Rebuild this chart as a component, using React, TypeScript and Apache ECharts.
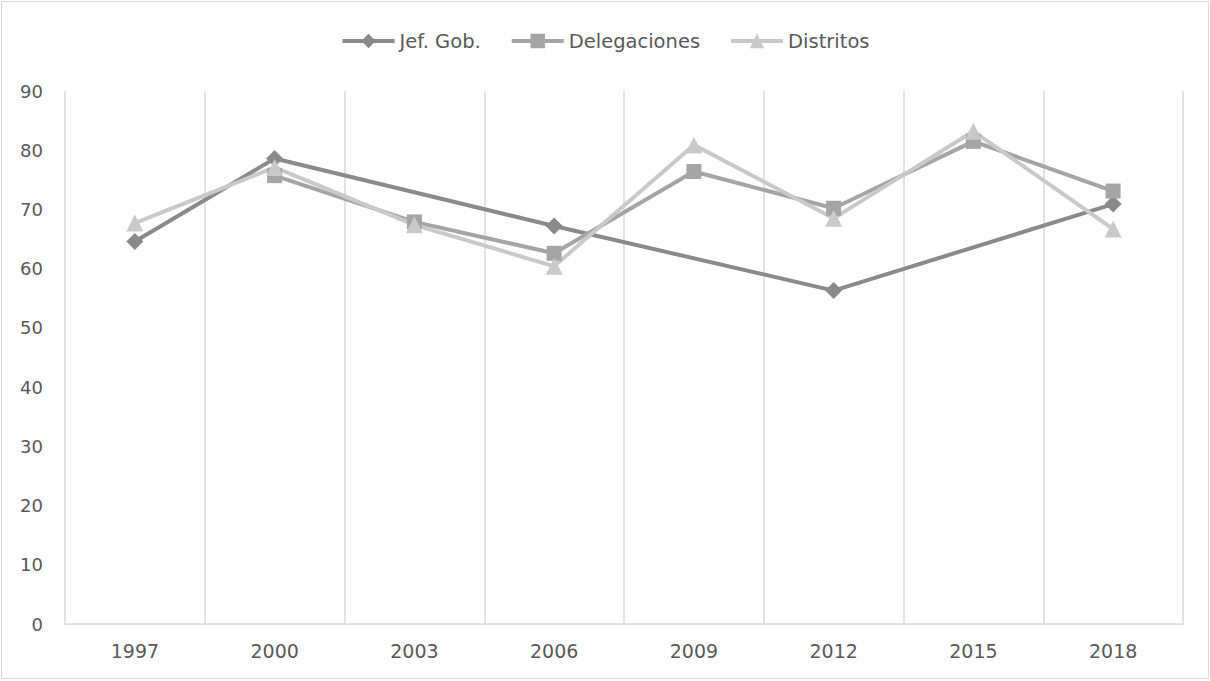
import React, { useEffect, useRef } from "react";
import * as echarts from "echarts";

// Election years on the category axis
const years = ["1997", "2000", "2003", "2006", "2009", "2012", "2015", "2018"];

// Participation per office; Jefatura de Gobierno is only elected every six years
const jefGob = [64.6, 78.6, null, 67.2, null, 56.3, null, 70.9];
const delegaciones = [null, 75.7, 67.9, 62.6, 76.4, 70.2, 81.5, 73.1];
const distritos = [67.7, 77.1, 67.4, 60.4, 80.9, 68.5, 83.2, 66.7];

const seriesNames = ["Jef. Gob.", "Delegaciones", "Distritos"];
const yTicks = { min: 0, max: 90, step: 10 };

const FONT = "DejaVu Sans";
const TEXT = "#595959";
const GRID = "#d9d9d9";

export default function App() {
  const ref = useRef<HTMLDivElement>(null);

  useEffect(() => {
    if (!ref.current) return;
    const chart = echarts.init(ref.current, undefined, { renderer: "svg" });

    const line = (
      name: string,
      data: (number | null)[],
      color: string,
      symbol: string,
      symbolSize: number | number[]
    ) => ({
      name,
      type: "line",
      data,
      connectNulls: true,
      symbol,
      symbolSize,
      showSymbol: true,
      color,
      lineStyle: { color, width: 4 },
      itemStyle: { color, borderWidth: 0 },
      emphasis: { disabled: true },
      z: 2,
    });

    chart.setOption({
      animation: false,
      backgroundColor: "#ffffff",
      textStyle: { fontFamily: FONT },
      graphic: [
        {
          type: "rect",
          shape: { x: 1.5, y: 1.5, width: 1207, height: 677 },
          style: { fill: "none", stroke: GRID, lineWidth: 1 },
          silent: true,
        },
      ],
      legend: {
        top: 26,
        left: "center",
        itemWidth: 52,
        itemHeight: 18,
        itemGap: 29,
        lineStyle: { width: 4 },
        textStyle: { color: TEXT, fontSize: 19.5, fontFamily: FONT },
        data: seriesNames,
      },
      grid: { left: 65, right: 27, top: 91, bottom: 57, containLabel: false },
      xAxis: {
        type: "category",
        data: years,
        boundaryGap: true,
        axisLine: { show: true, lineStyle: { color: GRID, width: 1.5 } },
        axisTick: { show: false },
        axisLabel: {
          color: TEXT,
          fontSize: 19,
          fontFamily: FONT,
          margin: 17,
        },
        splitLine: { show: true, lineStyle: { color: GRID, width: 1.5 } },
      },
      yAxis: {
        type: "value",
        min: yTicks.min,
        max: yTicks.max,
        interval: yTicks.step,
        axisLine: { show: false },
        axisTick: { show: false },
        splitLine: { show: false },
        axisLabel: {
          color: TEXT,
          fontSize: 18,
          fontFamily: FONT,
          margin: 22,
        },
      },
      series: [
        line(seriesNames[0], jefGob, "#8a8a8a", "diamond", 17),
        line(seriesNames[1], delegaciones, "#a5a5a5", "rect", 15),
        line(seriesNames[2], distritos, "#c9c9c9", "triangle", 17),
      ],
    });

    return () => chart.dispose();
  }, []);

  return (
    <div
      ref={ref}
      style={{ position: "fixed", left: 0, top: 0, width: 1210, height: 681 }}
    />
  );
}
